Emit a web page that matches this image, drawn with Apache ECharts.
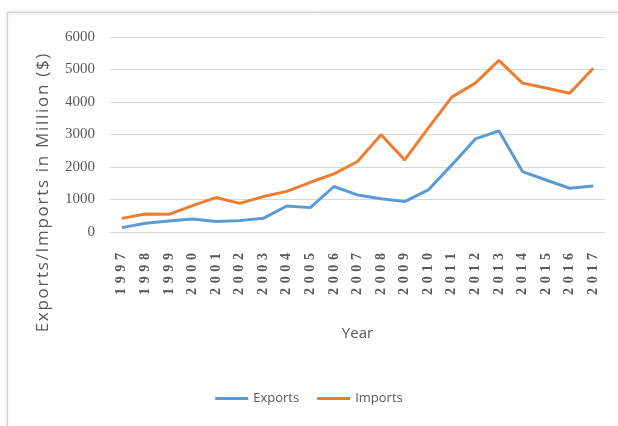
<!DOCTYPE html>
<html>
<head>
<meta charset="utf-8">
<script src="https://cdn.jsdelivr.net/npm/echarts@6/dist/echarts.min.js"></script>
<style>html,body{margin:0;padding:0;background:#fff;}#c{width:618px;height:426px;}</style>
</head>
<body>
<div id="c"></div>
<script>
const years = ['1997','1998','1999','2000','2001','2002','2003','2004','2005','2006','2007','2008','2009','2010','2011','2012','2013','2014','2015','2016','2017'];
const exportsData = [135, 270, 340, 400, 320, 350, 420, 800, 750, 1400, 1140, 1020, 935, 1295, 2065, 2865, 3110, 1860, 1600, 1345, 1415];
const importsData = [420, 555, 545, 810, 1060, 880, 1090, 1250, 1530, 1790, 2170, 2990, 2220, 3195, 4150, 4580, 5280, 4580, 4430, 4270, 5040];
const yTicks = [0, 1000, 2000, 3000, 4000, 5000, 6000];
const yAxisTitle = 'Exports/Imports in Million ($)';

const chart = echarts.init(document.getElementById('c'));
chart.setOption({
  backgroundColor: '#fff',
  animation: false,
  graphic: [{
    type: 'rect', left: 7, top: 12, shape: {width: 640, height: 440},
    style: {fill: '#fff', stroke: '#d0d0d0', lineWidth: 1, shadowBlur: 4, shadowColor: 'rgba(0,0,0,0.15)'},
    z: -10
  }, {
    type: 'text', x: 43, y: 193, rotation: Math.PI / 2,
    style: {text: yAxisTitle.split('').join('\u200A'), fill: '#595959', font: '17px "Open Sans"',
      textAlign: 'center', textVerticalAlign: 'middle'}
  }],
  grid: {left: 110, right: 13, top: 37, bottom: 194},
  legend: {
    bottom: 16, left: 'center',
    itemWidth: 33, itemHeight: 3, itemGap: 18,
    icon: 'rect',
    textStyle: {color: '#595959', fontFamily: 'Open Sans', fontSize: 13},
    data: ['Exports', 'Imports']
  },
  xAxis: {
    type: 'category', data: years, boundaryGap: true,
    name: 'Year', nameLocation: 'middle', nameGap: 94,
    nameTextStyle: {color: '#595959', fontFamily: 'Open Sans', fontSize: 15},
    axisLine: {show: false}, axisTick: {show: false},
    axisLabel: {
      rotate: 90, margin: 21, interval: 0, color: '#595959',
      fontFamily: 'Liberation Serif', fontSize: 14, fontWeight: 'bold',
      formatter: v => v.split('').join('\u2004')
    }
  },
  yAxis: {
    type: 'value', min: 0, max: 6000, interval: 1000,
    axisLine: {show: false}, axisTick: {show: false},
    axisLabel: {margin: 15, color: '#595959', fontFamily: 'Liberation Serif', fontSize: 15,
      formatter: v => yTicks.includes(v) ? String(v) : ''},
    splitLine: {lineStyle: {color: '#d9d9d9', width: 1}}
  },
  series: [
    {name: 'Exports', type: 'line', data: exportsData, symbol: 'none',
     lineStyle: {color: '#5B9BD5', width: 3}, itemStyle: {color: '#5B9BD5'}},
    {name: 'Imports', type: 'line', data: importsData, symbol: 'none',
     lineStyle: {color: '#ED7D31', width: 3}, itemStyle: {color: '#ED7D31'}}
  ]
});
</script>
</body>
</html>
